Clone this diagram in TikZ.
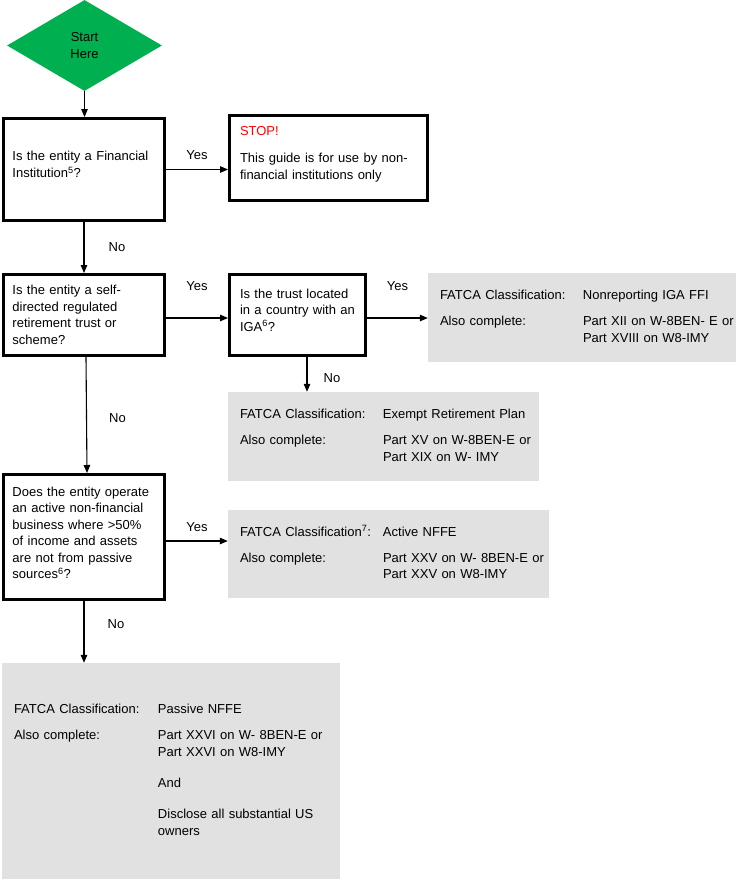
\documentclass[tikz,border=0pt]{standalone}
\usepackage{fontspec}
\setmainfont{Liberation Sans}
\usetikzlibrary{shapes.geometric, arrows.meta}

\definecolor{startgreen}{RGB}{0,176,80}
\definecolor{resultgrey}{RGB}{225,225,225}

\begin{document}
\begin{tikzpicture}[x=1pt, y=-1pt, >={Triangle[length=8pt, width=6.5pt]},
    font=\fontsize{13}{16.5}\selectfont,
    begin/.style={diamond, fill=startgreen, inner sep=0pt, align=center, minimum width=155pt, minimum height=91pt},
    question/.style={draw, line width=3pt, rectangle, align=left, inner xsep=9pt, text width=143pt},
    result/.style={rectangle, fill=resultgrey, inner xsep=12pt, align=left},
    flow/.style={->, line width=1.1pt}]
    \useasboundingbox (0,0) rectangle (736,879);

    \node[begin] (start) at (84.5,45.5) {Start\\Here};
    \node[question, minimum height=102pt, text depth=26.5pt] (fi) at (84,169.5)
        {Is the entity a Financial\\Institution\textsuperscript{5}?};
    \node[question, minimum height=85pt, text width=177pt, inner xsep=10.5pt, text depth=54pt] (stop) at (328.5,158)
        {\textcolor{red}{STOP!}\\[10.5pt]This guide is for use by non-\\financial institutions only};
    \node[question, minimum height=81pt] (retire) at (84,315)
        {Is the entity a self-\\directed regulated\\retirement trust or\\scheme?};
    \node[question, minimum height=81pt, text width=115pt, inner xsep=10.5pt, text depth=43pt] (iga) at (297.5,315)
        {Is the trust located\\in a country with an\\IGA\textsuperscript{6}?};
    \node[question, minimum height=125pt, text depth=90.5pt] (active) at (84,537)
        {Does the entity operate\\an active non-financial\\business where >50\%\\of income and assets\\are not from passive\\sources\textsuperscript{6}?};

    \node[result, minimum height=89pt, text width=284pt] (nonrep) at (582,317.5)
        {\begin{tabular}{@{}p{143pt}@{}l@{}}
         FATCA Classification: & Nonreporting IGA FFI\\[9.5pt]
         Also complete: & Part XII on W-8BEN- E or\\
         & Part XVIII on W8-IMY
         \end{tabular}};
    \node[result, minimum height=89pt, text width=287pt] (exempt) at (383.5,436.5)
        {\begin{tabular}{@{}p{143pt}@{}l@{}}
         FATCA Classification: & Exempt Retirement Plan\\[9.5pt]
         Also complete: & Part XV on W-8BEN-E or\\
         & Part XIX on W- IMY
         \end{tabular}};
    \node[result, minimum height=88pt, text width=297pt] (nffe) at (388.5,554)
        {\begin{tabular}{@{}p{143pt}@{}l@{}}
         FATCA Classification\textsuperscript{7}: & Active NFFE\\[9.5pt]
         Also complete: & Part XXV on W- 8BEN-E or\\
         & Part XXV on W8-IMY
         \end{tabular}};
    \node[result, minimum height=216pt, text width=314pt] (passive) at (171,771)
        {\begin{tabular}{@{}p{144pt}@{}l@{}}
         FATCA Classification: & Passive NFFE\\[9.5pt]
         Also complete: & Part XXVI on W- 8BEN-E or\\
         & Part XXVI on W8-IMY\\[15pt]
         & And\\[14.5pt]
         & Disclose all substantial US\\
         & owners
         \end{tabular}};

    % connectors
    \draw[flow] (start.south) -- (start.south |- fi.north);
    \draw[flow] (fi.east) -- (fi.east -| stop.west) node[midway, yshift=14pt] {Yes};
    \draw[flow] (fi.south) -- (retire.north) node[midway, xshift=33pt] {No};
    \draw[flow] ([yshift=-3pt]retire.east) -- ([yshift=-3pt]retire.east -| iga.west) node[midway, yshift=32pt] {Yes};
    \draw[flow] ([yshift=-3pt]iga.east) -- ([yshift=-3pt]iga.east -| nonrep.west) node[midway, yshift=32pt] {Yes};
    \draw[flow] ([xshift=9.5pt]iga.south) -- ([xshift=9.5pt]iga.south |- exempt.north) node[midway, xshift=25pt, yshift=-3.5pt] {No};
    \draw[flow] ([xshift=2pt]retire.south) -- ([xshift=3pt]active.north) node[midway, xshift=31pt, yshift=-3pt] {No};
    \draw[flow] ([yshift=-4pt]active.east) -- ([yshift=-4pt]active.east -| nffe.west) node[midway, yshift=14pt] {Yes};
    \draw[flow] (active.south) -- (active.south |- passive.north) node[midway, xshift=32pt, yshift=8pt] {No};
\end{tikzpicture}
\end{document}
